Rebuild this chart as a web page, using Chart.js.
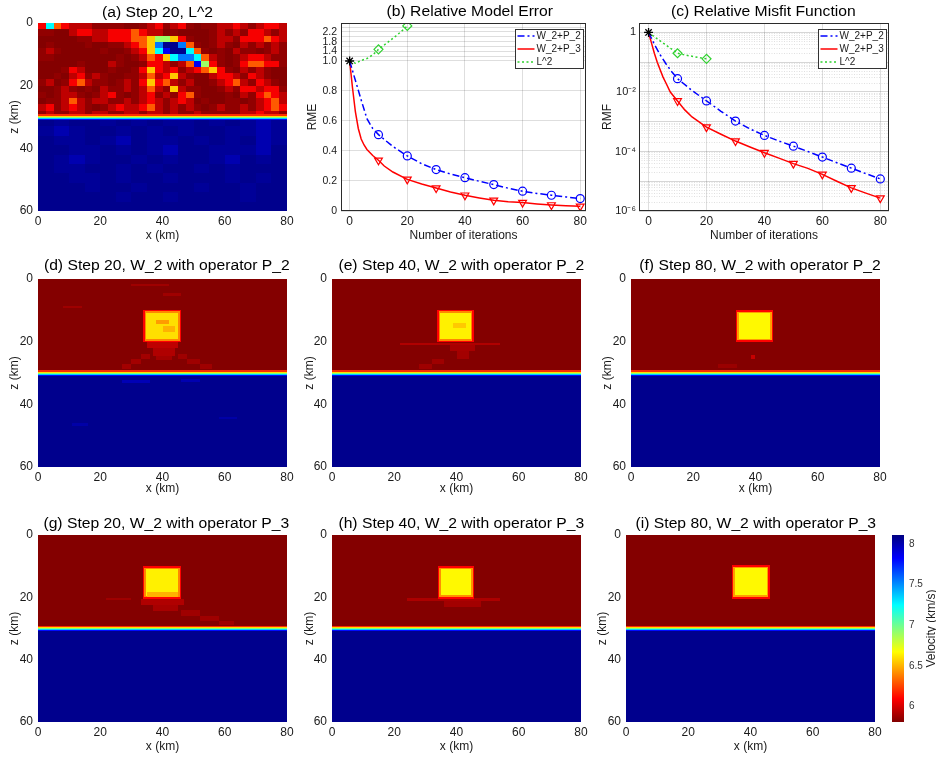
<!DOCTYPE html>
<html>
<head>
<meta charset="utf-8">
<title>Velocity inversion comparison</title>
<script src="https://cdn.jsdelivr.net/npm/chart.js@4.4.1/dist/chart.umd.min.js"></script>
<style>
  html, body { margin: 0; padding: 0; background: #ffffff; }
  body { position: relative; width: 936px; height: 758px; overflow: hidden; }
  canvas { position: absolute; }
</style>
</head>
<body>
<script>
// ================= DATA =================
// tick values / labels
const kmTicksX = [0, 20, 40, 60, 80];
const kmTicksZ = [0, 20, 40, 60];
const iterTicks = [0, 20, 40, 60, 80];
const rmeTicks = [0, 0.2, 0.4, 0.6, 0.8, 1.0, 1.2, 1.4, 1.6, 1.8, 2.0, 2.2, 2.4];
const rmeTickLabels = ['0', '0.2', '0.4', '0.6', '0.8', '1.0', '', '1.4', '', '1.8', '', '2.2', ''];
const rmfLabelValues = [1, 1e-2, 1e-4, 1e-6];
const rmfTickLabels = ['1', '10\u207B\u00B2', '10\u207B\u2074', '10\u207B\u2076'];
const cbarTicks = [6, 6.5, 7, 7.5, 8];
const cbarTickLabels = ['6', '6.5', '7', '7.5', '8'];

// series
const seriesLabels = ['W_2+P_2', 'W_2+P_3', 'L^2'];

// (b) relative model error
const rmeP2Iter = [0, 2, 4, 6, 8, 10, 15, 20, 25, 30, 35, 40, 45, 50, 55, 60, 65, 70, 75, 80];
const rmeP2 = [1.0, 0.87, 0.74, 0.615, 0.55, 0.509, 0.43, 0.367, 0.315, 0.276, 0.247, 0.222, 0.198, 0.176, 0.152, 0.132, 0.117, 0.105, 0.094, 0.083];
const rmeP3Iter = [0, 1, 2, 3, 4, 5, 6, 8, 10, 12, 15, 20, 25, 30, 35, 40, 45, 50, 55, 60, 65, 70, 75, 80];
const rmeP3 = [1.0, 0.82, 0.66, 0.55, 0.48, 0.44, 0.41, 0.37, 0.338, 0.30, 0.26, 0.211, 0.18, 0.153, 0.127, 0.105, 0.087, 0.071, 0.062, 0.056, 0.047, 0.040, 0.035, 0.031];
const rmeL2Iter = [0, 2, 4, 6, 8, 10, 12, 14, 16, 18, 20];
const rmeL2 = [1.0, 0.985, 1.02, 1.1, 1.25, 1.48, 1.66, 1.84, 2.03, 2.23, 2.45];

// (c) relative misfit function
const rmfP2Iter = [0, 2, 4, 6, 8, 10, 15, 20, 25, 30, 35, 40, 45, 50, 55, 60, 65, 70, 75, 80];
const rmfP2 = [1, 0.40, 0.178, 0.089, 0.048, 0.028, 0.0112, 0.0050, 0.00224, 0.00105, 0.000575, 0.000347, 0.000224, 0.000151, 0.0001, 6.5e-5, 4.2e-5, 2.75e-5, 1.8e-5, 1.2e-5];
const rmfP3Iter = [0, 1, 2, 3, 4, 5, 6, 7.5, 10, 12.5, 15, 20, 25, 30, 35, 40, 45, 50, 55, 60, 65, 70, 75, 80];
const rmfP3 = [1, 0.447, 0.2, 0.1, 0.056, 0.0316, 0.02, 0.01, 0.005, 0.0025, 0.00145, 0.00066, 0.00038, 0.000224, 0.000141, 9.1e-5, 6.0e-5, 3.9e-5, 2.7e-5, 1.7e-5, 1.0e-5, 6.0e-6, 4.0e-6, 2.7e-6];
const rmfL2Iter = [0, 2, 4, 6, 8, 10, 12, 14, 16, 18, 20];
const rmfL2 = [1, 0.72, 0.52, 0.38, 0.275, 0.2, 0.18, 0.165, 0.152, 0.14, 0.13];

// velocity colour range (km/s) and coded velocity levels for gridded panel (a)
const velRange = [5.81, 8.11];
const levelKeys = '0123456789ABC';
const levelVel = [5.82, 5.85, 5.95, 6.08, 6.3, 6.55, 6.9, 7.25, 7.55, 7.85, 8.08, 8.055, 8.0];
const cbarStops = [8.11, 7.8225, 7.2475, 6.6725, 6.0975, 5.81];

// model cells: [x0, x1, z0, z1, velocity]
const baseLayers = [[0, 80, 0, 30, 5.82], [0, 80, 30, 60, 8.08]];
const interfaceStrips = [
  [0, 80, 29.2, 29.55, 6.2], [0, 80, 29.55, 29.9, 6.6], [0, 80, 29.9, 30.25, 6.95],
  [0, 80, 30.25, 30.6, 7.35], [0, 80, 30.6, 30.95, 7.8]
];

// panel (a): upper crust x 0-80, z 0-30 (32 x 15 cells)
const aUpperGrid = [
  '37432221111001231231011223212332',
  '11002332233343220100001212133212',
  '00000112233344566531001221333432',
  '0100001001123458AA84101210212121',
  '12100000100123579AA7410102110121',
  '11000000001012435788742101233211',
  '00000100021001332124963101344331',
  '00013200010013532312345310212100',
  '00102312100112423521002332132100',
  '12013421101213534212001234213210',
  '00121010211212421521100121332331',
  '10122101231012312134100010213432',
  '01124212211212321232010011012342',
  '23123210123223421212101211212343',
  '12112212211221221211211111223221'
];
// panel (a): mantle x 0-80, z 30-60 (16 x 10 cells)
const aLowerGrid = [
  'ABAABABABBABABCB',
  'BCBAABABABAABBCB',
  'ABBABCABBABABACB',
  'AABBABABCAABBBCA',
  'ABCBAABABAABCABA',
  'ABBAABABAABABAAA',
  'AABBABAABAAABABA',
  'AAABAABAAABAABAA',
  'AAAAABAABAAAABAA',
  'AAAAAAAAAAAAAAAA'
];

const dCells = [
  [35, 45, 20.2, 22, 5.95], [37, 44, 22, 24.5, 5.92], [38, 43, 24.5, 26, 5.89],
  [33, 36, 24, 25.5, 5.89], [30, 33, 25.5, 27, 5.89], [27, 30, 27, 28.8, 5.89],
  [45, 48, 24, 25.5, 5.88], [48, 52, 25.5, 27, 5.88], [52, 56, 27, 28.8, 5.88],
  [30, 42, 1.5, 2.3, 5.88], [40, 46, 4.6, 5.3, 5.88], [8, 14, 8.6, 9.4, 5.88],
  [33.8, 46.1, 9.8, 20.2, 6.1], [34.3, 45.6, 10.3, 19.7, 6.4], [34.8, 45.1, 10.8, 19.2, 6.6],
  [38, 42, 13, 14.5, 6.45], [40, 44, 15, 17, 6.5],
  [27, 36, 32.3, 33.1, 7.99], [46, 52, 32.0, 32.8, 8.0], [58, 64, 44, 44.8, 8.02], [11, 16, 46, 46.8, 8.02]
];
const eCells = [
  [22, 54, 20.4, 21.2, 5.92], [38, 46, 21.2, 23, 5.9], [40, 44, 23, 25.5, 5.89],
  [32, 36, 25.5, 27, 5.88], [28, 32, 27, 28.8, 5.88],
  [33.8, 45.6, 9.8, 20.2, 6.1], [34.3, 45.1, 10.3, 19.7, 6.4], [34.8, 44.6, 10.8, 19.2, 6.64], [39, 43, 14, 15.5, 6.55]
];
const fCells = [
  [28, 34, 27.2, 28.4, 5.87], [38.5, 39.8, 24.4, 25.6, 5.97],
  [33.7, 45.7, 10.0, 20.0, 6.1], [34.2, 45.2, 10.5, 19.5, 6.45], [34.7, 44.7, 11.0, 19.0, 6.66]
];
const gCells = [
  [33, 47, 20.5, 22.5, 5.92], [37, 45, 22.5, 24.5, 5.9], [46, 52, 24, 26, 5.88], [52, 58, 26, 27.5, 5.88],
  [58, 63, 27.5, 28.8, 5.88], [22, 30, 20.3, 21, 5.88],
  [33.7, 46.1, 10, 20.5, 6.1], [34.2, 45.6, 10.5, 20, 6.4], [34.7, 45.1, 11, 19.5, 6.64], [35, 45, 18.3, 19.8, 6.5]
];
const hCells = [
  [24, 54, 20.3, 21.1, 5.91], [36, 48, 21.1, 23, 5.89],
  [33.9, 45.7, 10.0, 20.4, 6.1], [34.4, 45.2, 10.5, 19.9, 6.42], [34.9, 44.7, 11, 19.4, 6.66]
];
const iCells = [
  [34, 46.2, 9.7, 20.4, 6.1], [34.5, 45.7, 10.2, 19.9, 6.45], [35, 45.2, 10.7, 19.4, 6.66]
];

// ================= HELPERS =================
Chart.defaults.font.family = "'Liberation Sans', Arial, Helvetica, sans-serif";
Chart.defaults.font.size = 12;
Chart.defaults.color = '#1a1a1a';

function jet(v) {
  const t = Math.min(1, Math.max(0, (velRange[1] - v) / (velRange[1] - velRange[0])));
  const ch = k => Math.round(255 * Math.min(1, Math.max(0, 1.5 - Math.abs(4 * t - k))));
  return 'rgb(' + ch(3) + ',' + ch(2) + ',' + ch(1) + ')';
}

function gridToCells(rows, x0, x1, z0, z1) {
  const out = [];
  const nr = rows.length, nc = rows[0].length;
  const dx = (x1 - x0) / nc, dz = (z1 - z0) / nr;
  rows.forEach((row, j) => {
    for (let i = 0; i < nc; i++) {
      const k = levelKeys.indexOf(row[i]);
      if (k < 0) continue;
      out.push([x0 + i * dx, x0 + (i + 1) * dx, z0 + j * dz, z0 + (j + 1) * dz, levelVel[k]]);
    }
  });
  return out;
}

function makeCanvas(c) {
  const el = document.createElement('canvas');
  el.width = c.w; el.height = c.h;
  el.style.left = c.left + 'px'; el.style.top = c.top + 'px';
  el.style.width = c.w + 'px'; el.style.height = c.h + 'px';
  document.body.appendChild(el);
  return el;
}

function heatPlugin(cells) {
  return {
    id: 'heatCells',
    beforeDatasetsDraw(chart) {
      const { ctx, chartArea: a, scales: { x, y } } = chart;
      ctx.save();
      ctx.beginPath(); ctx.rect(a.left, a.top, a.width, a.height); ctx.clip();
      cells.forEach(([x0, x1, z0, z1, v]) => {
        const px0 = Math.round(x.getPixelForValue(x0)), px1 = Math.round(x.getPixelForValue(x1));
        const py0 = Math.round(y.getPixelForValue(z0)), py1 = Math.round(y.getPixelForValue(z1));
        ctx.fillStyle = jet(v);
        ctx.fillRect(Math.min(px0, px1), Math.min(py0, py1), Math.max(1, Math.abs(px1 - px0)), Math.max(1, Math.abs(py1 - py0)));
      });
      ctx.restore();
    }
  };
}

function textPlugin(c, items) {
  return {
    id: 'panelTexts',
    afterDraw(chart) {
      const ctx = chart.ctx;
      items.forEach(it => {
        ctx.save();
        ctx.translate(it.x - c.left, it.y - c.top);
        if (it.rot) ctx.rotate(it.rot);
        ctx.scale(it.sx || 1, 1);
        ctx.font = (it.size || 12) + "px 'Liberation Sans', Arial, sans-serif";
        ctx.fillStyle = it.color || '#000';
        ctx.textAlign = 'center';
        ctx.textBaseline = it.baseline || 'alphabetic';
        ctx.fillText(it.text, 0, 0);
        ctx.restore();
      });
    }
  };
}

const framePlugin = {
  id: 'axesFrame',
  afterDatasetsDraw(chart) {
    const { ctx, chartArea: a } = chart;
    ctx.save();
    ctx.strokeStyle = '#2b2b2b'; ctx.lineWidth = 1;
    ctx.strokeRect(Math.round(a.left) + 0.5, Math.round(a.top) + 0.5, Math.round(a.width) - 1, Math.round(a.height) - 1);
    ctx.restore();
  }
};

const insetLegend = {
  id: 'insetLegend',
  afterDraw(chart) {
    const { ctx, chartArea: a } = chart;
    const items = chart.data.datasets.filter(d => d.legend !== false);
    const w = 68, h = 39;
    const x0 = Math.round(a.right - 3 - w) + 0.5, y0 = Math.round(a.top + 6) + 0.5;
    ctx.save();
    ctx.fillStyle = '#fff'; ctx.fillRect(x0, y0, w, h);
    ctx.strokeStyle = '#333'; ctx.lineWidth = 1; ctx.strokeRect(x0, y0, w, h);
    items.forEach((d, i) => {
      const yy = y0 + 6.5 + i * 13;
      ctx.beginPath();
      ctx.setLineDash(d.borderDash || []);
      ctx.strokeStyle = d.borderColor; ctx.lineWidth = 1.5;
      ctx.moveTo(x0 + 2, yy); ctx.lineTo(x0 + 19, yy); ctx.stroke();
      ctx.setLineDash([]);
      ctx.fillStyle = '#1a1a1a';
      ctx.font = "10px 'Liberation Sans', Arial, sans-serif";
      ctx.textAlign = 'left'; ctx.textBaseline = 'middle';
      ctx.fillText(d.label, x0 + 21, yy);
    });
    ctx.restore();
  }
};

class BrokenLinearScale extends Chart.LinearScale {
  static id = 'brokenlinear';
  _brk() {
    const o = this.options;
    return { at: (o.breakAt !== undefined ? o.breakAt : 1), frac: (o.breakFrac !== undefined ? o.breakFrac : 0.8) };
  }
  getPixelForValue(value) {
    if (value === null || isNaN(value)) return NaN;
    const { at, frac } = this._brk();
    let d;
    if (value <= at) d = (value - this.min) / (at - this.min) * frac;
    else d = frac + (value - at) / (this.max - at) * (1 - frac);
    return this.getPixelForDecimal(d);
  }
  getValueForPixel(pixel) {
    const { at, frac } = this._brk();
    const d = this.getDecimalForPixel(pixel);
    return d <= frac ? this.min + d / frac * (at - this.min) : at + (d - frac) / (1 - frac) * (this.max - at);
  }
}
Chart.register(BrokenLinearScale);

// ================= PANEL GEOMETRY =================
const LH = 12 * 1.2;
const heatPanels = [
  { title: '(a) Step 20, L^2', tx: 157.5, ty: 17, canvas: { left: 0, top: 0, w: 301, h: 247 }, plot: { left: 38, top: 23, right: 287, bottom: 211 }, yTitleX: 15, xTitleY: 235.5,
    cells: baseLayers.concat(gridToCells(aUpperGrid, 0, 80, 0, 30), gridToCells(aLowerGrid, 0, 80, 30, 60), interfaceStrips) },
  { title: '(d) Step 20, W_2 with operator P_2', tx: 166.8, ty: 269.5, canvas: { left: 0, top: 250, w: 301, h: 250 }, plot: { left: 38, top: 279, right: 287, bottom: 467 }, yTitleX: 15, xTitleY: 489,
    cells: baseLayers.concat(dCells, interfaceStrips) },
  { title: '(e) Step 40, W_2 with operator P_2', tx: 461.3, ty: 269.5, canvas: { left: 292, top: 250, w: 303, h: 250 }, plot: { left: 332, top: 279, right: 581, bottom: 467 }, yTitleX: 310, xTitleY: 489,
    cells: baseLayers.concat(eCells, interfaceStrips) },
  { title: '(f) Step 80, W_2 with operator P_2', tx: 760, ty: 269.5, canvas: { left: 591, top: 250, w: 303, h: 250 }, plot: { left: 631, top: 279, right: 880, bottom: 467 }, yTitleX: 608, xTitleY: 489,
    cells: baseLayers.concat(fCells, interfaceStrips) },
  { title: '(g) Step 20, W_2 with operator P_3', tx: 166.3, ty: 528, canvas: { left: 0, top: 500, w: 301, h: 258 }, plot: { left: 38, top: 535, right: 287, bottom: 722 }, yTitleX: 15, xTitleY: 747,
    cells: baseLayers.concat(gCells, interfaceStrips) },
  { title: '(h) Step 40, W_2 with operator P_3', tx: 461.3, ty: 528, canvas: { left: 292, top: 500, w: 303, h: 258 }, plot: { left: 332, top: 535, right: 581, bottom: 722 }, yTitleX: 310, xTitleY: 747,
    cells: baseLayers.concat(hCells, interfaceStrips) },
  { title: '(i) Step 80, W_2 with operator P_3', tx: 755.8, ty: 528, canvas: { left: 586, top: 500, w: 303, h: 258 }, plot: { left: 626, top: 535, right: 875, bottom: 722 }, yTitleX: 603, xTitleY: 747,
    cells: baseLayers.concat(iCells, interfaceStrips) }
];

function padFor(c, pl) {
  return { left: 0, top: pl.top - c.top, right: c.left + c.w - pl.right, bottom: 0 };
}

function buildHeat(p) {
  const c = p.canvas, pl = p.plot;
  return new Chart(makeCanvas(c), {
    type: 'scatter',
    data: { datasets: [] },
    options: {
      responsive: false, animation: false, events: [],
      layout: { padding: padFor(c, pl) },
      plugins: { legend: { display: false }, tooltip: { enabled: false } },
      scales: {
        x: {
          type: 'linear', min: 0, max: 80,
          afterBuildTicks: ax => { ax.ticks = kmTicksX.map(v => ({ value: v })); },
          afterFit: ax => { ax.height = c.top + c.h - pl.bottom; },
          grid: { display: false, drawTicks: false, tickLength: 0 }, border: { display: false },
          ticks: { padding: 3, maxRotation: 0, autoSkip: false, font: { size: 12 } },
          title: { display: true, text: 'x (km)', font: { size: 12 }, padding: { top: 0, bottom: (c.top + c.h - p.xTitleY) - LH / 2 } }
        },
        y: {
          type: 'linear', reverse: true, min: 0, max: 60,
          afterBuildTicks: ax => { ax.ticks = kmTicksZ.map(v => ({ value: v })); },
          afterFit: ax => { ax.width = pl.left - c.left; },
          grid: { display: false, drawTicks: false, tickLength: 0 }, border: { display: false },
          ticks: { padding: 5, autoSkip: false, font: { size: 12 } },
          title: { display: true, text: 'z (km)', font: { size: 12 }, padding: { top: (p.yTitleX - c.left) - LH / 2, bottom: 0 } }
        }
      }
    },
    plugins: [heatPlugin(p.cells), textPlugin(c, [{ text: p.title, x: p.tx, y: p.ty, size: 14, sx: 1.12 }])]
  });
}
heatPanels.forEach(buildHeat);

// ================= LINE PANELS =================
function pts(xs, ys) { return xs.map((x, i) => ({ x: x, y: ys[i] })); }
const markerEvery10 = r => ctx => (ctx.raw && ctx.raw.x > 0 && ctx.raw.x % 10 === 0) ? r : 0;
function seriesSets(p2x, p2, p3x, p3, l2x, l2) {
  return [
    { label: 'start', legend: false, data: [{ x: 0, y: 1 }], showLine: false, pointStyle: 'star', pointRadius: 4.5,
      borderColor: '#000', pointBorderColor: '#000', pointBackgroundColor: '#000', pointBorderWidth: 1.3 },
    { label: seriesLabels[0], data: pts(p2x, p2), borderColor: '#0000ff', borderWidth: 1.5, borderDash: [7, 3, 2, 3],
      pointStyle: 'circle', pointRadius: markerEvery10(4), pointBorderColor: '#0000ff', pointBackgroundColor: 'rgba(0,0,0,0)', pointBorderWidth: 1.2 },
    { label: seriesLabels[1], data: pts(p3x, p3), borderColor: '#ff0000', borderWidth: 1.5, borderDash: [],
      pointStyle: 'triangle', pointRotation: 180, pointRadius: markerEvery10(4.5), pointBorderColor: '#ff0000', pointBackgroundColor: 'rgba(0,0,0,0)', pointBorderWidth: 1.2 },
    { label: seriesLabels[2], data: pts(l2x, l2), borderColor: '#2fd12f', borderWidth: 1.5, borderDash: [2, 2.5],
      pointStyle: 'rectRot', pointRadius: markerEvery10(4.5), pointBorderColor: '#2fd12f', pointBackgroundColor: 'rgba(0,0,0,0)', pointBorderWidth: 1.2 }
  ];
}

function buildLine(p) {
  const c = p.canvas, pl = p.plot;
  const yScale = Object.assign({
    afterFit: ax => { ax.width = pl.left - c.left; },
    title: { display: true, text: p.yTitle, font: { size: 12 }, padding: { top: (p.yTitleX - c.left) - LH / 2, bottom: 0 } }
  }, p.y);
  return new Chart(makeCanvas(c), {
    type: 'line',
    data: { datasets: p.datasets },
    options: {
      responsive: false, animation: false, events: [],
      layout: { padding: padFor(c, pl) },
      plugins: { legend: { display: false }, tooltip: { enabled: false } },
      scales: {
        x: {
          type: 'linear', min: p.xMin, max: p.xMax,
          afterBuildTicks: ax => { ax.ticks = iterTicks.map(v => ({ value: v })); },
          afterFit: ax => { ax.height = c.top + c.h - pl.bottom; },
          grid: { color: 'rgba(0,0,0,0.13)', lineWidth: 1, drawTicks: false }, border: { display: false },
          ticks: { padding: 3, maxRotation: 0, autoSkip: false, font: { size: 12 } },
          title: { display: true, text: 'Number of iterations', font: { size: 12 }, padding: { top: 0, bottom: (c.top + c.h - p.xTitleY) - LH / 2 } }
        },
        y: yScale
      }
    },
    plugins: [framePlugin, insetLegend, textPlugin(c, [{ text: p.title, x: p.tx, y: p.ty, size: 14, sx: 1.12 }])]
  });
}

buildLine({
  title: '(b) Relative Model Error', tx: 469.8, ty: 16,
  canvas: { left: 300, top: 0, w: 300, h: 247 }, plot: { left: 341, top: 23, right: 586, bottom: 211 },
  yTitle: 'RME', yTitleX: 313, xTitleY: 235.5, xMin: -3, xMax: 82,
  datasets: seriesSets(rmeP2Iter, rmeP2, rmeP3Iter, rmeP3, rmeL2Iter, rmeL2),
  y: {
    type: 'brokenlinear', min: 0, max: 2.57, breakAt: 1.0, breakFrac: 0.798,
    afterBuildTicks: ax => { ax.ticks = rmeTicks.map(v => ({ value: v })); },
    grid: { color: 'rgba(0,0,0,0.13)', lineWidth: 1, drawTicks: false }, border: { display: false },
    ticks: { padding: 4, autoSkip: false, font: { size: 10.5 },
      callback: v => { const k = rmeTicks.findIndex(u => Math.abs(u - v) < 1e-9); return k >= 0 ? rmeTickLabels[k] : ''; } }
  }
});

buildLine({
  title: '(c) Relative Misfit Function', tx: 763.3, ty: 16,
  canvas: { left: 598, top: 0, w: 304, h: 247 }, plot: { left: 639, top: 23, right: 889, bottom: 211 },
  yTitle: 'RMF', yTitleX: 608, xTitleY: 235.5, xMin: -3.3, xMax: 83,
  datasets: seriesSets(rmfP2Iter, rmfP2, rmfP3Iter, rmfP3, rmfL2Iter, rmfL2),
  y: {
    type: 'logarithmic', min: 1e-6, max: 2.08,
    afterBuildTicks: ax => {
      const t = [];
      for (let e = -6; e <= 0; e++) for (let m = 1; m <= 9; m++) { const v = m * Math.pow(10, e); if (v <= 2.08) t.push({ value: v, major: m === 1 }); }
      ax.ticks = t;
    },
    grid: { color: ctx => (ctx.tick && ctx.tick.major) ? 'rgba(0,0,0,0.16)' : 'rgba(0,0,0,0.12)', lineWidth: 1, drawTicks: false },
    border: { display: false, dash: ctx => (ctx.tick && ctx.tick.major) ? [] : [1, 1.5] },
    ticks: { padding: 3, autoSkip: false, font: { size: 11 },
      callback: v => { const k = rmfLabelValues.findIndex(u => Math.abs(v / u - 1) < 1e-6); return k >= 0 ? rmfTickLabels[k] : ''; } }
  }
});

// ================= COLORBAR =================
(function buildColorbar() {
  const c = { left: 880, top: 500, w: 56, h: 258 }, pl = { left: 892, top: 535, right: 904, bottom: 722 };
  const cbarPlugin = {
    id: 'cbarFill',
    beforeDatasetsDraw(chart) {
      const { ctx, chartArea: a, scales: { y } } = chart;
      const top = y.getPixelForValue(velRange[1]), bot = y.getPixelForValue(velRange[0]);
      const g = ctx.createLinearGradient(0, top, 0, bot);
      cbarStops.forEach(v => g.addColorStop(Math.min(1, Math.max(0, (y.getPixelForValue(v) - top) / (bot - top))), jet(v)));
      ctx.save(); ctx.fillStyle = g; ctx.fillRect(a.left, top, a.width, bot - top); ctx.restore();
    }
  };
  new Chart(makeCanvas(c), {
    type: 'scatter',
    data: { datasets: [] },
    options: {
      responsive: false, animation: false, events: [],
      layout: { padding: { left: pl.left - c.left, top: pl.top - c.top, right: 0, bottom: c.top + c.h - pl.bottom } },
      plugins: { legend: { display: false }, tooltip: { enabled: false } },
      scales: {
        x: { type: 'linear', display: false, min: 0, max: 1 },
        y: {
          type: 'linear', position: 'right', min: velRange[0], max: velRange[1],
          afterBuildTicks: ax => { ax.ticks = cbarTicks.map(v => ({ value: v })); },
          afterFit: ax => { ax.width = c.left + c.w - pl.right; },
          grid: { display: false, drawTicks: false, tickLength: 0 }, border: { display: false },
          ticks: { padding: 5, autoSkip: false, font: { size: 10 }, color: '#333',
            callback: v => { const k = cbarTicks.findIndex(u => Math.abs(u - v) < 1e-9); return k >= 0 ? cbarTickLabels[k] : ''; } }
        }
      }
    },
    plugins: [cbarPlugin, textPlugin(c, [{ text: 'Velocity (km/s)', x: 931.5, y: 628.5, size: 12, rot: -Math.PI / 2, baseline: 'middle', color: '#222' }])]
  });
})();
</script>
</body>
</html>
